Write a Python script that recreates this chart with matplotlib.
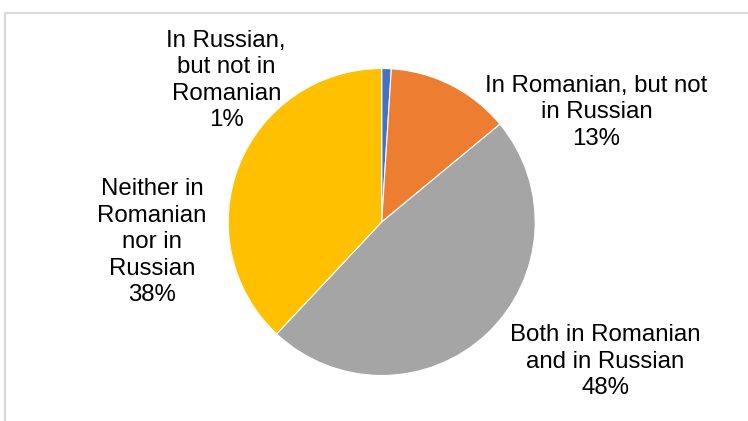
import matplotlib
matplotlib.use("Agg")
import matplotlib.pyplot as plt
from matplotlib.lines import Line2D

# Survey shares by language of use
categories = [
    "In Russian,\nbut not in\nRomanian",
    "In Romanian, but not\nin Russian",
    "Both in Romanian\nand in Russian",
    "Neither in\nRomanian\nnor in\nRussian",
]
shares = [1, 13, 48, 38]
colors = ["#4472C4", "#ED7D31", "#A5A5A5", "#FFC000"]

# Label anchor points in pie data units (radius = 1)
label_pos = [(-1.013, 0.922), (1.399, 0.716), (1.458, -0.911), (-1.497, -0.132)]

W, H, DPI = 748, 421, 100
fig = plt.figure(figsize=(W / DPI, H / DPI), dpi=DPI)
fig.patch.set_facecolor("white")

cx, cy, r = 381.7, 222.0, 153.5
ax = fig.add_axes([(cx - r) / W, 1 - (cy + r) / H, 2 * r / W, 2 * r / H])
ax.pie(shares, colors=colors, startangle=90, counterclock=False, radius=1,
       wedgeprops=dict(edgecolor="white", linewidth=0.8))
ax.set_xlim(-1, 1)
ax.set_ylim(-1, 1)
ax.set_aspect("equal")
ax.axis("off")

for name, val, (x, y) in zip(categories, shares, label_pos):
    ax.text(x, y, f"{name}\n{val}%", ha="center", va="center",
            fontsize=17.3, family="Liberation Sans", color="#000000",
            linespacing=1.26, clip_on=False)

# Chart-area frame (top and left edges)
frame = dict(color="#D9D9D9", linewidth=1.5, transform=fig.transFigure)
fig.add_artist(Line2D([4.5 / W, 1.0], [1 - 13 / H, 1 - 13 / H], **frame))
fig.add_artist(Line2D([4.5 / W, 4.5 / W], [1 - 13 / H, 0.0], **frame))

fig.savefig("out.png", dpi=DPI, facecolor="white")
